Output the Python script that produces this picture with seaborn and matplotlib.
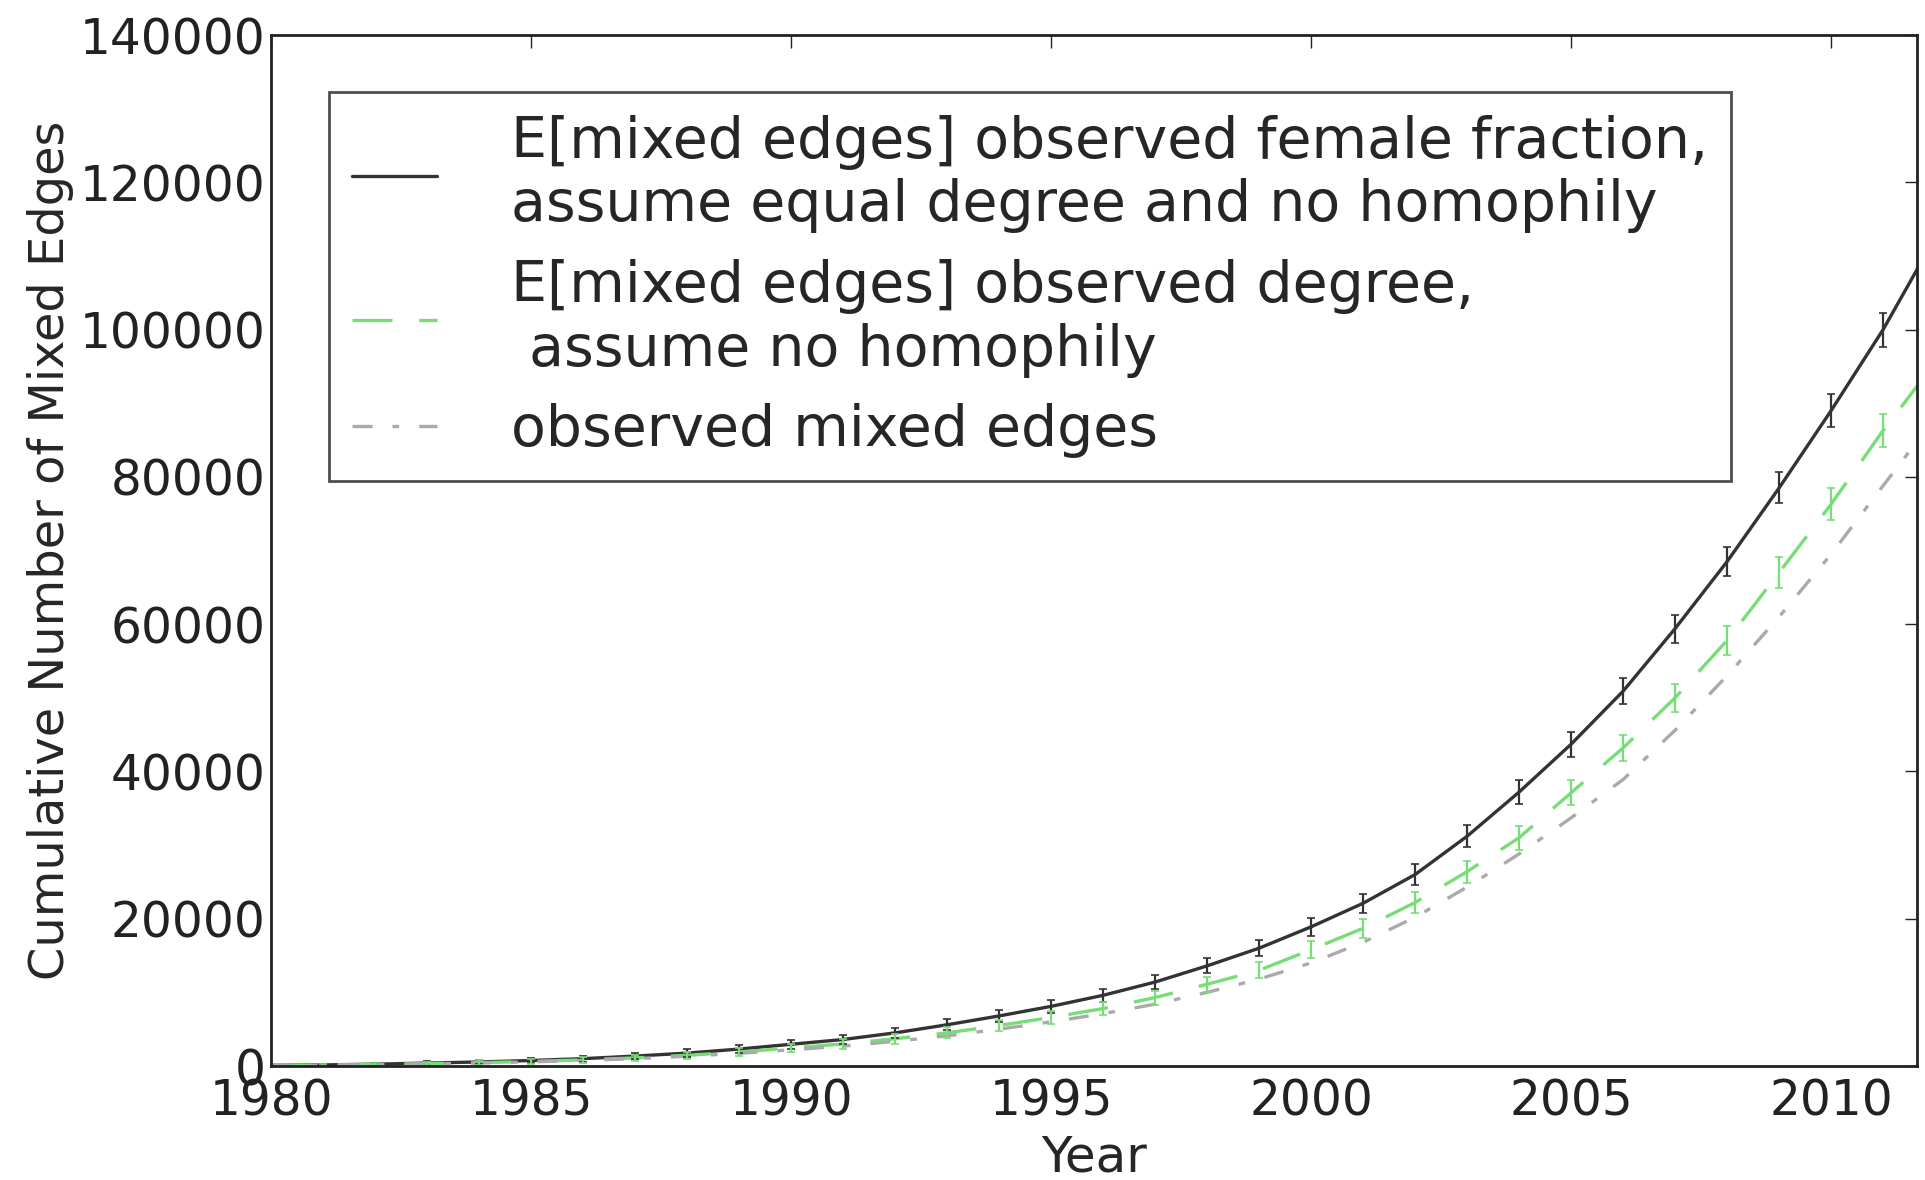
import numpy as np
import pandas as pd
import matplotlib
matplotlib.use("Agg")
import matplotlib.pyplot as plt
import seaborn as sns

years = list(range(1980, 2013))

expected_female_fraction = [100, 150, 250, 400, 550, 750, 1000, 1350, 1750, 2300,
                            2950, 3600, 4500, 5600, 6800, 8100, 9600, 11400, 13600, 16000,
                            18900, 22100, 26000, 31200, 37200, 43700, 50900, 59400, 68500, 78500,
                            89000, 100000, 112500]
expected_female_err = [150, 150, 200, 250, 300, 350, 400, 450, 500, 550,
                       600, 650, 700, 750, 800, 850, 900, 950, 1000, 1100,
                       1200, 1300, 1400, 1500, 1600, 1700, 1800, 1900, 2000, 2100,
                       2200, 2300, 2400]

expected_degree = [80, 120, 200, 320, 450, 620, 830, 1100, 1450, 1900,
                   2450, 3000, 3700, 4500, 5500, 6600, 7800, 9300, 11100, 13000,
                   15800, 18700, 22200, 26400, 31000, 37100, 43200, 50000, 57800, 67000,
                   76300, 86300, 95500]
expected_degree_err = [150, 150, 200, 250, 300, 350, 400, 450, 500, 550,
                       600, 650, 700, 750, 800, 850, 900, 950, 1000, 1100,
                       1200, 1300, 1400, 1500, 1600, 1700, 1800, 1900, 2000, 2100,
                       2200, 2300, 2400]

observed_mixed = [70, 110, 180, 290, 410, 560, 760, 1000, 1320, 1720,
                  2200, 2700, 3350, 4100, 5000, 6000, 7100, 8400, 10000, 11800,
                  14000, 16800, 20200, 24300, 28800, 33700, 38900, 45600, 53000, 61000,
                  69500, 78800, 88000]

label_black = "E[mixed edges] observed female fraction,\nassume equal degree and no homophily"
label_green = "E[mixed edges] observed degree,\n assume no homophily"
label_gray = "observed mixed edges"

sns.set_theme(style="white")
plt.rcParams['font.family'] = ['DejaVu Sans']
plt.rcParams.update({
    "xtick.direction": "in", "ytick.direction": "in",
    "xtick.top": True, "ytick.right": True,
    "xtick.major.size": 9, "ytick.major.size": 9,
    "xtick.major.width": 1.0, "ytick.major.width": 1.0,
    "axes.edgecolor": "#222222", "axes.linewidth": 2.0,
})

fig = plt.figure(figsize=(19.25, 11.8), dpi=100)
ax = fig.add_axes([0.1408, 0.0966, 0.9958 - 0.1408, 0.9703 - 0.0966])

df = pd.DataFrame({"year": years, "black": expected_female_fraction,
                   "green": expected_degree, "gray": observed_mixed})

c_black = "#333333"
c_green = "#77dd77"
c_gray = "#aaaaaa"

sns.lineplot(data=df, x="year", y="black", ax=ax, color=c_black, lw=2.4,
             label=label_black)
sns.lineplot(data=df, x="year", y="green", ax=ax, color=c_green, lw=2.4,
             label=label_green)
ax.lines[-1].set_dashes([12, 8])
sns.lineplot(data=df, x="year", y="gray", ax=ax, color=c_gray, lw=2.4,
             label=label_gray)
ax.lines[-1].set_dashes([6, 6, 2, 6])

ax.errorbar(years, expected_female_fraction, yerr=expected_female_err, fmt="none",
            ecolor=c_black, elinewidth=1.6, capsize=3, capthick=1.2)
ax.errorbar(years, expected_degree, yerr=expected_degree_err, fmt="none",
            ecolor=c_green, elinewidth=1.6, capsize=3, capthick=1.2)

ax.set_xlim(1980, 2011.65)
ax.set_ylim(0, 140000)
ax.set_xticks([1980, 1985, 1990, 1995, 2000, 2005, 2010])
ax.set_yticks(range(0, 140001, 20000))
ax.tick_params(labelsize=35, colors="#222222")
ax.tick_params(axis="y", pad=4)
ax.tick_params(axis="x", pad=8)
ax.set_xlabel("Year", fontsize=36, labelpad=6)
ax.set_ylabel("Cumulative Number of Mixed Edges", fontsize=34.5, labelpad=4)
for s in ax.spines.values():
    s.set_visible(True)

leg = ax.legend(loc="upper left", bbox_to_anchor=(0.0352, 0.9447), borderaxespad=0,
                fontsize=41, frameon=True, fancybox=False, handlelength=1.5,
                handletextpad=1.3, borderpad=0.4, labelspacing=0.45)
leg.get_frame().set_edgecolor("#222222")
leg.get_frame().set_linewidth(2.0)

fig.savefig("out.png", dpi=100)
